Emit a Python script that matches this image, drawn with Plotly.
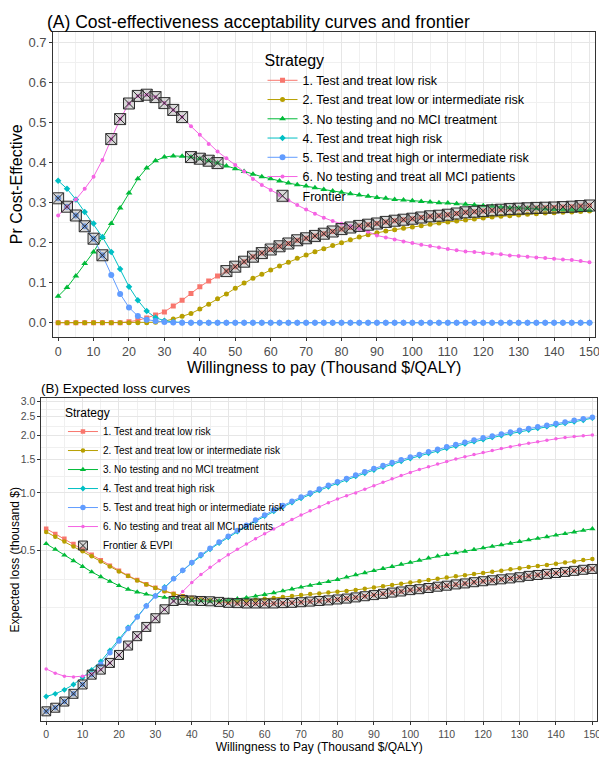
import plotly.graph_objects as go

# ---------------- data ----------------
WTP = [0, 2.5, 5, 7.5, 10, 12.5, 15, 17.5, 20, 22.5,
       25, 27.5, 30, 32.5, 35, 37.5, 40, 42.5, 45, 47.5,
       50, 52.5, 55, 57.5, 60, 62.5, 65, 67.5, 70, 72.5,
       75, 77.5, 80, 82.5, 85, 87.5, 90, 92.5, 95, 97.5,
       100, 102.5, 105, 107.5, 110, 112.5, 115, 117.5, 120, 122.5,
       125, 127.5, 130, 132.5, 135, 137.5, 140, 142.5, 145, 147.5,
       150]

STRATEGIES = ["1. Test and treat low risk",
              "2. Test and treat low or intermediate risk",
              "3. No testing and no MCI treatment",
              "4. Test and treat high risk",
              "5. Test and treat high or intermediate risk",
              "6. No testing and treat all MCI patients"]

X_TICKS = [0, 10, 20, 30, 40, 50, 60, 70, 80, 90, 100, 110, 120, 130, 140, 150]
Y_TICKS_A = [0, 0.1, 0.2, 0.3, 0.4, 0.5, 0.6, 0.7]
Y_TICKS_B = [0.5, 1.0, 1.5, 2.0, 2.5, 3.0]
Y_TICKTEXT_B = ["0.5", "1.0", "1.5", "2.0", "2.5", "3.0"]
Y_MINOR_B = [0.25, 0.354, 0.707, 1.225, 1.732, 2.236, 2.739]

# (A) probability cost-effective
CEAC_1 = [0, 0, 0, 0, 0, 0, 0, 0, 0.0025, 0.006,
          0.012, 0.019, 0.027, 0.042, 0.056, 0.073, 0.090, 0.104, 0.117, 0.129,
          0.140, 0.1525, 0.165, 0.174, 0.183, 0.191, 0.198, 0.206, 0.211, 0.217,
          0.2225, 0.228, 0.234, 0.238, 0.242, 0.245, 0.248, 0.252, 0.255, 0.2575,
          0.260, 0.263, 0.266, 0.2675, 0.270, 0.273, 0.276, 0.2775, 0.279, 0.281,
          0.2825, 0.284, 0.285, 0.286, 0.287, 0.2875, 0.288, 0.289, 0.290, 0.2915,
          0.293]
CEAC_2 = [0, 0, 0, 0, 0, 0, 0, 0, 0, 0,
          0, 0.001, 0.004, 0.009, 0.016, 0.023, 0.034, 0.046, 0.060, 0.072,
          0.086, 0.099, 0.111, 0.121, 0.132, 0.142, 0.151, 0.161, 0.169, 0.1775,
          0.185, 0.193, 0.200, 0.2075, 0.214, 0.220, 0.225, 0.229, 0.2325, 0.236,
          0.239, 0.2425, 0.246, 0.249, 0.252, 0.254, 0.257, 0.259, 0.262, 0.264,
          0.266, 0.2675, 0.269, 0.271, 0.2725, 0.274, 0.275, 0.276, 0.277, 0.278,
          0.279]
CEAC_3 = [0.066, 0.088, 0.117, 0.148, 0.177, 0.213, 0.248, 0.287, 0.324, 0.360,
          0.387, 0.405, 0.414, 0.417, 0.416, 0.414, 0.410, 0.405, 0.399, 0.392,
          0.385, 0.378, 0.371, 0.365, 0.360, 0.354, 0.349, 0.345, 0.342, 0.3375,
          0.333, 0.329, 0.326, 0.3225, 0.319, 0.316, 0.313, 0.311, 0.308, 0.307,
          0.305, 0.303, 0.302, 0.300, 0.299, 0.2975, 0.296, 0.294, 0.2925, 0.291,
          0.289, 0.2875, 0.287, 0.286, 0.285, 0.284, 0.283, 0.2825, 0.282, 0.282,
          0.281]
CEAC_4 = [0.355, 0.335, 0.308, 0.277, 0.248, 0.214, 0.177, 0.134, 0.090, 0.056,
          0.029, 0.0125, 0.005, 0.0017, 0.0005, 0, 0, 0, 0, 0,
          0, 0, 0, 0, 0, 0, 0, 0, 0, 0,
          0, 0, 0, 0, 0, 0, 0, 0, 0, 0,
          0, 0, 0, 0, 0, 0, 0, 0, 0, 0,
          0, 0, 0, 0, 0, 0, 0, 0, 0, 0,
          0]
CEAC_5 = [0.311, 0.290, 0.268, 0.241, 0.210, 0.1685, 0.119, 0.072, 0.038, 0.0166,
          0.0075, 0.004, 0.0017, 0.0005, 0, 0, 0, 0, 0, 0,
          0, 0, 0, 0, 0, 0, 0, 0, 0, 0,
          0, 0, 0, 0, 0, 0, 0, 0, 0, 0,
          0, 0, 0, 0, 0, 0, 0, 0, 0, 0,
          0, 0, 0, 0, 0, 0, 0, 0, 0, 0,
          0]
CEAC_6 = [0.268, 0.290, 0.308, 0.335, 0.365, 0.407, 0.459, 0.509, 0.548, 0.567,
          0.570, 0.564, 0.549, 0.532, 0.514, 0.491, 0.470, 0.447, 0.428, 0.411,
          0.394, 0.378, 0.359, 0.344, 0.332, 0.319, 0.306, 0.294, 0.283, 0.2725,
          0.2625, 0.254, 0.2475, 0.242, 0.234, 0.2275, 0.218, 0.213, 0.208, 0.203,
          0.199, 0.195, 0.192, 0.188, 0.184, 0.181, 0.178, 0.177, 0.174, 0.1725,
          0.171, 0.168, 0.167, 0.165, 0.163, 0.162, 0.160, 0.158, 0.157, 0.154,
          0.151]

# (B) expected loss (thousand $)
ELC_1 = [0.650, 0.610, 0.575, 0.540, 0.506, 0.474, 0.444, 0.416, 0.391, 0.369,
         0.350, 0.333, 0.319, 0.307, 0.297, 0.288, 0.282, 0.277, 0.273, 0.269,
         0.266, 0.265, 0.264, 0.264, 0.264, 0.264, 0.265, 0.266, 0.268, 0.270,
         0.272, 0.274, 0.277, 0.280, 0.284, 0.288, 0.292, 0.2965, 0.301, 0.305,
         0.310, 0.3135, 0.318, 0.323, 0.327, 0.332, 0.336, 0.341, 0.345, 0.349,
         0.353, 0.357, 0.362, 0.368, 0.372, 0.377, 0.381, 0.386, 0.391, 0.396,
         0.400]
ELC_2 = [0.625, 0.590, 0.557, 0.525, 0.495, 0.466, 0.438, 0.412, 0.388, 0.367,
         0.348, 0.332, 0.318, 0.306, 0.296, 0.288, 0.282, 0.277, 0.274, 0.272,
         0.271, 0.272, 0.274, 0.276, 0.279, 0.282, 0.285, 0.2885, 0.292, 0.2955,
         0.298, 0.301, 0.304, 0.307, 0.310, 0.315, 0.320, 0.325, 0.330, 0.335,
         0.340, 0.345, 0.3505, 0.356, 0.361, 0.366, 0.371, 0.376, 0.381, 0.387,
         0.392, 0.398, 0.403, 0.409, 0.415, 0.420, 0.426, 0.432, 0.438, 0.445,
         0.451]
ELC_3 = [0.542, 0.506, 0.472, 0.441, 0.412, 0.386, 0.364, 0.344, 0.327, 0.313,
         0.303, 0.295, 0.289, 0.284, 0.280, 0.2755, 0.2735, 0.272, 0.271, 0.2725,
         0.275, 0.279, 0.283, 0.288, 0.294, 0.300, 0.307, 0.314, 0.321, 0.328,
         0.335, 0.343, 0.352, 0.362, 0.373, 0.382, 0.392, 0.402, 0.412, 0.423,
         0.433, 0.444, 0.456, 0.467, 0.476, 0.486, 0.495, 0.505, 0.515, 0.525,
         0.535, 0.545, 0.556, 0.567, 0.578, 0.589, 0.601, 0.612, 0.624, 0.636,
         0.649]
ELC_4 = [0.0861, 0.0889, 0.0933, 0.0995, 0.108, 0.1185, 0.1315, 0.150, 0.172, 0.198,
         0.226, 0.257, 0.290, 0.322, 0.357, 0.392, 0.430, 0.469, 0.507, 0.546,
         0.586, 0.627, 0.669, 0.712, 0.756, 0.800, 0.845, 0.890, 0.936, 0.983,
         1.030, 1.077, 1.124, 1.171, 1.219, 1.267, 1.316, 1.365, 1.414, 1.463,
         1.512, 1.561, 1.610, 1.659, 1.710, 1.755, 1.804, 1.853, 1.902, 1.950,
         1.994, 2.042, 2.087, 2.131, 2.176, 2.220, 2.264, 2.309, 2.353, 2.397,
         2.460]
ELC_5 = [0.072, 0.0752, 0.081, 0.0889, 0.0995, 0.112, 0.127, 0.146, 0.168, 0.195,
         0.224, 0.256, 0.289, 0.318, 0.355, 0.394, 0.433, 0.474, 0.513, 0.553,
         0.593, 0.635, 0.678, 0.722, 0.767, 0.813, 0.858, 0.904, 0.951, 0.999,
         1.047, 1.095, 1.143, 1.190, 1.240, 1.290, 1.340, 1.390, 1.440, 1.490,
         1.540, 1.590, 1.640, 1.690, 1.745, 1.790, 1.840, 1.890, 1.940, 1.985,
         2.030, 2.080, 2.125, 2.170, 2.215, 2.260, 2.305, 2.350, 2.395, 2.440,
         2.490]
ELC_6 = [0.120, 0.114, 0.110, 0.109, 0.110, 0.113, 0.119, 0.129, 0.142, 0.159,
         0.178, 0.199, 0.221, 0.246, 0.272, 0.305, 0.340, 0.374, 0.408, 0.441,
         0.474, 0.507, 0.541, 0.576, 0.611, 0.648, 0.686, 0.725, 0.765, 0.806,
         0.847, 0.888, 0.929, 0.965, 1.000, 1.045, 1.090, 1.137, 1.185, 1.233,
         1.280, 1.325, 1.370, 1.415, 1.460, 1.503, 1.545, 1.586, 1.627, 1.667,
         1.706, 1.745, 1.782, 1.818, 1.853, 1.887, 1.918, 1.946, 1.970, 1.990,
         2.010]

# optimal strategy (frontier) at each WTP
FRONTIER_STRATEGY = [5, 5, 5, 5, 5, 5, 6, 6, 6, 6,
                     6, 6, 6, 6, 6, 3, 3, 3, 3, 1,
                     1, 1, 1, 1, 1, 1, 1, 1, 1, 1,
                     1, 1, 1, 1, 1, 1, 1, 1, 1, 1,
                     1, 1, 1, 1, 1, 1, 1, 1, 1, 1,
                     1, 1, 1, 1, 1, 1, 1, 1, 1, 1,
                     1]

CEAC = [CEAC_1, CEAC_2, CEAC_3, CEAC_4, CEAC_5, CEAC_6]
ELC = [ELC_1, ELC_2, ELC_3, ELC_4, ELC_5, ELC_6]

# ---------------- style ----------------
COLORS = ["#F8766D", "#B79F00", "#00BA38", "#00BFC4", "#619CFF", "#F564E3"]
SYMBOLS = ["square", "circle", "triangle-up", "diamond", "circle", "circle"]
SIZES = [5, 5, 6, 5, 6, 4]
FONT = "Liberation Sans"
W, H = 607, 758
OFF = 8                      # page body margin
FW, FH = W - OFF, H - OFF    # figure size


def fx(p):
    return (p - OFF) / FW


def fy(p):
    return 1 - (p - OFF) / FH


fig = go.Figure()

for k in range(6):
    fig.add_trace(go.Scatter(
        x=WTP, y=CEAC[k], mode="lines+markers", name=STRATEGIES[k],
        line=dict(color=COLORS[k], width=1),
        marker=dict(color=COLORS[k], symbol=SYMBOLS[k], size=SIZES[k]),
        xaxis="x", yaxis="y", legend="legend"))

fig.add_trace(go.Scatter(
    x=WTP, y=[CEAC[s - 1][i] for i, s in enumerate(FRONTIER_STRATEGY)],
    mode="markers", name="Frontier",
    marker=dict(symbol="square-x", size=11, color="rgba(150,150,150,0.35)",
                line=dict(color="#2b2b2b", width=1)),
    xaxis="x", yaxis="y", legend="legend"))

for k in range(6):
    fig.add_trace(go.Scatter(
        x=WTP, y=ELC[k], mode="lines+markers", name=STRATEGIES[k],
        line=dict(color=COLORS[k], width=1),
        marker=dict(color=COLORS[k], symbol=SYMBOLS[k], size=SIZES[k] - 0.5),
        xaxis="x2", yaxis="y2", legend="legend2"))

fig.add_trace(go.Scatter(
    x=WTP, y=[ELC[s - 1][i] for i, s in enumerate(FRONTIER_STRATEGY)],
    mode="markers", name="Frontier &amp; EVPI",
    marker=dict(symbol="square-x", size=9, color="rgba(150,150,150,0.35)",
                line=dict(color="#2b2b2b", width=1)),
    xaxis="x2", yaxis="y2", legend="legend2"))

axis_common = dict(showline=True, linecolor="#333333", linewidth=1, mirror=True,
                   ticks="outside", ticklen=3, tickcolor="#333333", tickwidth=1,
                   showgrid=True, gridcolor="#E6E6E6", gridwidth=1, zeroline=False)

fig.update_layout(
    width=FW, height=FH,
    margin=dict(l=0, r=0, t=0, b=0),
    paper_bgcolor="white", plot_bgcolor="white",
    font=dict(family=FONT, color="black"),
    xaxis=dict(domain=[fx(46), fx(600)], anchor="y", range=[-1.4, 151.6],
               tickmode="array", tickvals=X_TICKS,
               tickfont=dict(size=12.5, color="#4D4D4D"),
               minor=dict(dtick=5, tick0=0, showgrid=True, gridcolor="#F0F0F0", gridwidth=0.7, ticks=""),
               title=dict(text="Willingness to pay (Thousand $/QALY)", font=dict(size=16), standoff=1),
               **axis_common),
    yaxis=dict(domain=[fy(335), fy(29)], anchor="x", range=[-0.035, 0.727],
               tickmode="array", tickvals=Y_TICKS_A, tickformat=".1f",
               tickfont=dict(size=13, color="#4D4D4D"),
               minor=dict(dtick=0.05, tick0=0, showgrid=True, gridcolor="#F0F0F0", gridwidth=0.7, ticks=""),
               title=dict(text="Pr Cost-Effective", font=dict(size=16), standoff=6),
               **axis_common),
    xaxis2=dict(domain=[fx(34), fx(602)], anchor="y2", range=[-1.3, 151.3],
                tickmode="array", tickvals=X_TICKS,
                tickfont=dict(size=10.5, color="#4D4D4D"),
                minor=dict(dtick=5, tick0=0, showgrid=True, gridcolor="#F0F0F0", gridwidth=0.7, ticks=""),
                title=dict(text="Willingness to Pay (Thousand $/QALY)", font=dict(size=12), standoff=2),
                **axis_common),
    yaxis2=dict(domain=[fy(721), fy(397)], anchor="x2", type="log",
                range=[-1.194, 0.494],
                tickmode="array", tickvals=Y_TICKS_B, ticktext=Y_TICKTEXT_B,
                tickfont=dict(size=10.5, color="#4D4D4D"),
                minor=dict(tickmode="array", tickvals=Y_MINOR_B, showgrid=True,
                           gridcolor="#F0F0F0", gridwidth=0.7, ticks=""),
                title=dict(text="Expected loss (thousand $)", font=dict(size=12), standoff=4),
                **axis_common),
    legend=dict(x=fx(260), y=fy(42), xanchor="left", yanchor="top",
                bgcolor="rgba(0,0,0,0)", font=dict(size=12.5, color="black"),
                title=dict(text="Strategy", font=dict(size=16)), tracegroupgap=0),
    legend2=dict(x=fx(56), y=fy(400), xanchor="left", yanchor="top",
                 bgcolor="rgba(0,0,0,0)", font=dict(size=10, color="black"),
                 title=dict(text="Strategy", font=dict(size=12)), tracegroupgap=0),
    annotations=[
        dict(text="(A) Cost-effectiveness acceptability curves and frontier",
             xref="paper", yref="paper", x=fx(39), y=1,
             xanchor="left", yanchor="top", showarrow=False, borderpad=0,
             font=dict(size=17.5, color="black")),
        dict(text="(B) Expected loss curves",
             xref="paper", yref="paper", x=fx(32), y=fy(387),
             xanchor="left", yanchor="middle", showarrow=False,
             font=dict(size=13.5, color="black")),
    ],
)

fig.write_html("out.html")
